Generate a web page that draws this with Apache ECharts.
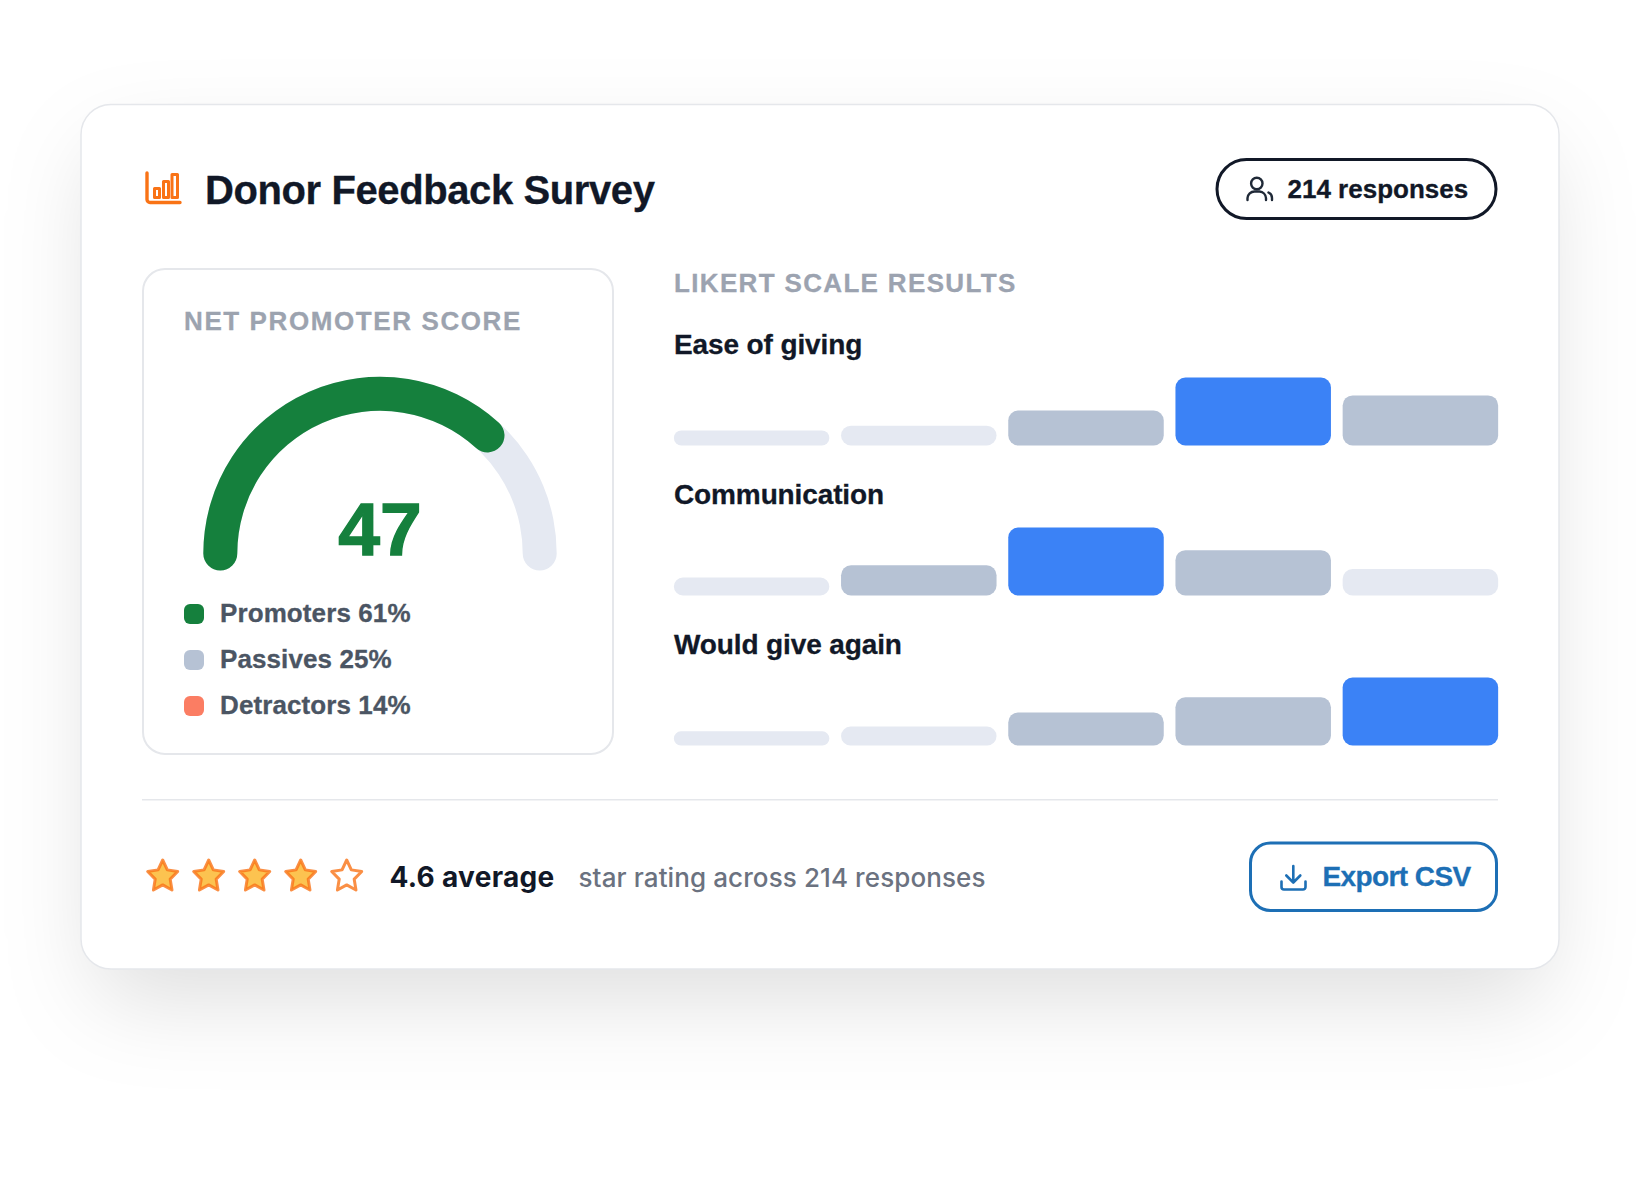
<!DOCTYPE html>
<html>
<head>
<meta charset="utf-8">
<title>Donor Feedback Survey</title>
<script src="https://cdn.jsdelivr.net/npm/echarts@6/dist/echarts.min.js"></script>
<style>
  html, body { margin: 0; background: #fff; }
  #chart { width: 1640px; height: 1200px; }
  /* tracking per text, zrender has no letter spacing option */
  #chart text[fill="#9ca3af"] { letter-spacing: 1.6px; }
  #chart text[fill="#9ca3b0"] { letter-spacing: 1.34px; }
  #chart text[style*="40px"] { letter-spacing: -0.4px; }
  #chart text[fill="#1d6fb5"] { letter-spacing: -0.6px; }
  #chart text[fill="#4b5563"] { letter-spacing: 0.1px; }
  #chart text[fill="#111827"][style*="28px"] { letter-spacing: -0.12px; }
  #chart text[style*="Inter"][style*="28px"] { letter-spacing: 0.3px; }
  #chart text[style*="Inter"][style*="26px"] { letter-spacing: 0.1px; }
</style>
</head>
<body>
<div id="chart"></div>
<script>
var surveyTitle = 'Donor Feedback Survey';
var responseCount = 214;
var averageRating = 4.6;

var npsScore = 47;
var npsGroups = ['Promoters', 'Passives', 'Detractors'];
var npsShares = [61, 25, 14];
var npsColors = ['#15803d', '#b6c2d4', '#fb7d63'];

var likertTopics = ['Ease of giving', 'Communication', 'Would give again'];
var likertScale = ['1', '2', '3', '4', '5'];
// share of answers per scale step, %
var easeOfGiving = [8, 10.5, 18.5, 36, 26.5];
var communication = [9.5, 16, 36, 24, 14];
var wouldGiveAgain = [7.5, 10, 17.5, 25.5, 36];
var likertRows = [easeOfGiving, communication, wouldGiveAgain];

var starSlots = ['1', '2', '3', '4', '5'];
var starsFilled = [1, 1, 1, 1, 0];

var chart = echarts.init(document.getElementById('chart'), null, { renderer: 'svg' });

var INK = '#111827';
var FONT = '"Liberation Sans"';

// baseline is the y of the text's baseline
function label(text, x, baseline, size, weight, color, family) {
  var style = {
    text: text,
    x: x,
    y: baseline - size * 0.36,
    fill: color,
    font: weight + ' ' + size + 'px ' + (family || FONT),
    verticalAlign: 'middle'
  };
  if (!family) {
    // a touch heavier than plain bold
    style.stroke = color;
    style.lineWidth = 0.3;
  }
  return { type: 'text', z: 5, style: style, silent: true };
}

function box(x, y, w, h, r, fill, stroke, lineWidth, extra) {
  var style = { fill: fill, stroke: stroke, lineWidth: lineWidth };
  for (var k in extra) style[k] = extra[k];
  return {
    type: 'rect',
    z: -1,
    shape: { x: x, y: y, width: w, height: h, r: r },
    style: style,
    silent: true
  };
}

var iconCount = 0;
function line(d, color, width) {
  var name = 'icon' + (iconCount++);
  echarts.graphic.registerShape(name, echarts.graphic.extendPath(d, {}));
  return {
    type: name,
    z: 5,
    style: { fill: 'none', stroke: color, lineWidth: width, lineCap: 'round', lineJoin: 'round' },
    silent: true
  };
}

var graphics = [
  box(95, 120, 1450, 849, 30, '#fff', 'none', 0, {
    shadowBlur: 90,
    shadowOffsetY: 30,
    shadowColor: 'rgba(20,24,30,0.13)'
  }),
  box(81, 104.5, 1478, 864.5, 30, '#fff', '#e5e7eb', 1.5),
  box(143, 269, 470, 485, 22, '#fff', '#e5e7eb', 2),
  box(142, 799, 1356, 1.5, 0, '#e5e7eb', 'none', 0),

  // header
  line('M147 173V199.5a3 3 0 0 0 3 3H180', '#f97316', 3.4),
  line('M154.5 188.5h5v9h-5zM163.5 181.5h5v16h-5zM172 174.5h5.5v23H172z', '#f97316', 3),
  label(surveyTitle, 205, 204, 40, 700, INK),

  box(1217, 159.5, 279, 59, 29.5, '#fff', INK, 3),
  line('M1262.5 183.5a5.7 5.7 0 1 1 -11.4 0a5.7 5.7 0 1 1 11.4 0z', '#1f2937', 2.4),
  line('M1247.5 200v-2a7 7 0 0 1 7 -6.5h5a7 7 0 0 1 6.5 6.5v2M1268.5 192.5a6 6 0 0 1 3.5 5.5v2', '#1f2937', 2.4),
  label(responseCount + ' responses', 1287.5, 198.5, 26, 700, INK),

  // panels
  label('NET PROMOTER SCORE', 184, 330.2, 26, 700, '#9ca3af'),
  label('LIKERT SCALE RESULTS', 674, 292.2, 26, 700, '#9ca3b0'),

  // footer
  label(averageRating + ' average', 389.5, 887, 28, 700, INK, 'Inter'),
  label('star rating across ' + responseCount + ' responses', 578.5, 887, 26, 500, '#6b7280', 'Inter'),

  box(1250.5, 843, 246, 67.5, 20, '#fff', '#1d6fb5', 3),
  line('M1293.3 866V882M1286.3 875.5L1293.3 882.5L1300.3 875.5', '#1d6fb5', 2.6),
  line('M1281.5 881.5V887a2.5 2.5 0 0 0 2.5 2.5H1303a2.5 2.5 0 0 0 2.5 -2.5V881.5', '#1d6fb5', 2.6),
  label('Export CSV', 1322.5, 887, 28, 700, '#1d6fb5')
];

npsGroups.forEach(function (name, i) {
  var y = 604 + i * 46;
  var swatch = box(184, y, 20, 20, 6, npsColors[i], 'none', 0);
  swatch.z = 5;
  graphics.push(swatch);
  graphics.push(label(name + ' ' + npsShares[i] + '%', 220, y + 18.7, 26, 700, '#4b5563'));
});

likertTopics.forEach(function (name, i) {
  graphics.push(label(name, 674, 355 + i * 150, 28, 700, INK));
});

var grids = [];
var xAxes = [];
var yAxes = [];
var series = [];

series.push({
  type: 'gauge',
  center: [380, 553.5],
  radius: 176.7,
  startAngle: 180,
  endAngle: 0,
  min: -100,
  max: 100,
  silent: true,
  pointer: { show: false },
  axisTick: { show: false },
  splitLine: { show: false },
  axisLabel: { show: false },
  axisLine: { roundCap: true, lineStyle: { width: 34, color: [[1, '#e5e9f2']] } },
  progress: { show: true, roundCap: true, width: 34, itemStyle: { color: npsColors[0] } },
  title: { show: false },
  detail: {
    valueAnimation: false,
    offsetCenter: [0, -24.5],
    color: npsColors[0],
    fontFamily: 'Liberation Sans',
    fontWeight: 700,
    fontSize: 75,
    textBorderColor: npsColors[0],
    textBorderWidth: 1.4
  },
  data: [{ value: npsScore }]
});

function stepColor(value, row) {
  if (value === Math.max.apply(null, row)) return '#3b82f6';
  return value < 15 ? '#e5e9f2' : '#b6c2d4';
}

likertRows.forEach(function (row, i) {
  grids.push({ left: 668, width: 836, top: 377.5 + i * 150, height: 68 });
  xAxes.push({ type: 'category', gridIndex: i, data: likertScale, show: false });
  yAxes.push({ type: 'value', gridIndex: i, min: 0, max: 36, show: false });
  series.push({
    type: 'bar',
    xAxisIndex: i,
    yAxisIndex: i,
    barWidth: 155.5,
    silent: true,
    data: row.map(function (v) {
      return { value: v, itemStyle: { color: stepColor(v, row), borderRadius: 10 } };
    })
  });
});

// star rating row
grids.push({ left: 139.7, width: 230, top: 855, height: 40 });
xAxes.push({ type: 'category', gridIndex: 3, data: starSlots, show: false });
yAxes.push({ type: 'category', gridIndex: 3, data: ['rating'], show: false });
series.push({
  type: 'scatter',
  xAxisIndex: 3,
  yAxisIndex: 3,
  symbol: 'path://M12 2l3.09 6.26L22 9.27l-5 4.87L18.18 21 12 17.77 5.82 21 7 14.14l-5-4.87 6.91-1.01z',
  symbolSize: 30,
  silent: true,
  data: starsFilled.map(function (filled, i) {
    return {
      value: [i, 0],
      itemStyle: {
        color: filled ? '#fbb424' : '#fff',
        borderColor: '#f97316',
        borderWidth: 3,
        borderJoin: 'round'
      }
    };
  })
});

chart.setOption({
  animation: false,
  backgroundColor: '#fff',
  grid: grids,
  xAxis: xAxes,
  yAxis: yAxes,
  graphic: { elements: graphics },
  series: series
});
</script>
</body>
</html>
